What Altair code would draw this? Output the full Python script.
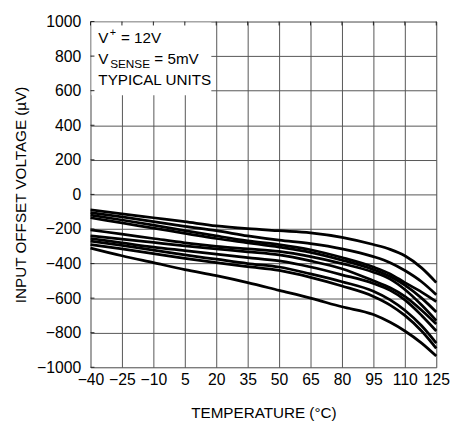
import altair as alt
import pandas as pd

temps = [-40, -25, -10, 5, 20, 35, 50, 65, 80, 95, 103, 110, 118, 125]

unit_a = [-90, -112, -135, -158, -182, -198, -210, -222, -248, -290, -318, -355, -425, -510]
unit_b = [-105, -130, -158, -185, -210, -240, -265, -285, -315, -360, -395, -440, -505, -580]
unit_c = [-120, -148, -178, -210, -240, -268, -290, -320, -365, -420, -460, -510, -565, -620]
unit_d = [-135, -165, -195, -225, -255, -280, -305, -335, -380, -435, -475, -525, -600, -680]
unit_e = [-205, -230, -255, -280, -300, -315, -330, -360, -400, -450, -490, -550, -640, -730]
unit_f = [-240, -258, -278, -298, -315, -332, -350, -385, -430, -500, -540, -590, -670, -750]
unit_g = [-255, -280, -305, -325, -345, -365, -385, -420, -465, -515, -555, -610, -700, -790]
unit_h = [-270, -295, -322, -350, -375, -400, -420, -460, -505, -560, -610, -670, -760, -860]
unit_i = [-290, -315, -342, -370, -395, -418, -440, -480, -530, -590, -640, -700, -790, -890]
unit_j = [-310, -355, -395, -435, -470, -510, -555, -600, -650, -695, -740, -790, -860, -935]

units = {"A": unit_a, "B": unit_b, "C": unit_c, "D": unit_d, "E": unit_e,
         "F": unit_f, "G": unit_g, "H": unit_h, "I": unit_i, "J": unit_j}

x_ticks = [-40, -25, -10, 5, 20, 35, 50, 65, 80, 95, 110, 125]
y_ticks = [-1000, -800, -600, -400, -200, 0, 200, 400, 600, 800, 1000]

rows = []
for name, vals in units.items():
    for t, v in zip(temps, vals):
        rows.append({"unit": name, "temp": t, "vos": v})
df = pd.DataFrame(rows)

FONT = "Liberation Sans"
W, H = 352, 352

xscale = alt.Scale(domain=[-40, 125], nice=False, zero=False)
yscale = alt.Scale(domain=[-1000, 1000], nice=False, zero=False)

xaxis = alt.Axis(values=x_ticks, title="TEMPERATURE (°C)", grid=True, ticks=False,
                 domain=False, labelOverlap=False, labelFlush=False, labelPadding=5,
                 labelFontSize=16, titleFontSize=15.5, titleFontWeight="normal",
                 titleY=51, titleBaseline="alphabetic", format="d",
                 gridColor="#555", gridWidth=1)
yaxis = alt.Axis(values=y_ticks, title="INPUT OFFSET VOLTAGE (µV)", grid=True, ticks=False,
                 domain=False, labelOverlap=False, labelFlush=False, labelPadding=10,
                 labelFontSize=16, titleFontSize=15.5, titleFontWeight="normal",
                 titleX=-66, titleBaseline="alphabetic", format="d",
                 gridColor="#555", gridWidth=1)

lines = alt.Chart(df).mark_line(color="black", strokeWidth=2.8, interpolate="monotone").encode(
    x=alt.X("temp:Q", scale=xscale, axis=xaxis),
    y=alt.Y("vos:Q", scale=yscale, axis=yaxis),
    detail="unit:N",
)

box = alt.Chart(pd.DataFrame({"k": [0]})).mark_rect(color="white").encode(
    x=alt.value(1), x2=alt.value(123), y=alt.value(1), y2=alt.value(75)
)

xt = alt.Chart(pd.DataFrame({"t": x_ticks})).mark_rule(color="#222", strokeWidth=1).encode(
    x=alt.X("t:Q", scale=xscale, axis=xaxis), y=alt.value(0), y2=alt.value(4)
)
yt = alt.Chart(pd.DataFrame({"v": y_ticks})).mark_rule(color="#222", strokeWidth=1).encode(
    y=alt.Y("v:Q", scale=yscale, axis=yaxis), x=alt.value(0), x2=alt.value(4)
)

def txt(s, x, y, size=15.5):
    return alt.Chart(pd.DataFrame({"s": [s]})).mark_text(
        align="left", baseline="alphabetic", font=FONT, fontSize=size, color="black"
    ).encode(text="s:N", x=alt.value(x), y=alt.value(y))

annot = [
    txt("V", 8, 21.5),
    txt("+", 19.5, 15, 11),
    txt("= 12V", 31, 21.5),
    txt("V", 8, 43.5),
    txt("SENSE", 20, 47.5, 12),
    txt("= 5mV", 65, 43.5),
    txt("TYPICAL UNITS", 8, 65),
]

chart = alt.layer(lines, box, xt, yt, *annot).properties(
    width=W, height=H,
    padding={"left": 84, "top": 10, "right": 15, "bottom": 56},
    autosize=alt.AutoSizeParams(type="none"),
).configure_view(
    stroke="#333", strokeWidth=1.5
).configure_axis(
    labelFont=FONT, titleFont=FONT, labelColor="black", titleColor="black",
).configure(background="white")

chart.save("out.html", embed_options={"renderer": "svg", "actions": False})
